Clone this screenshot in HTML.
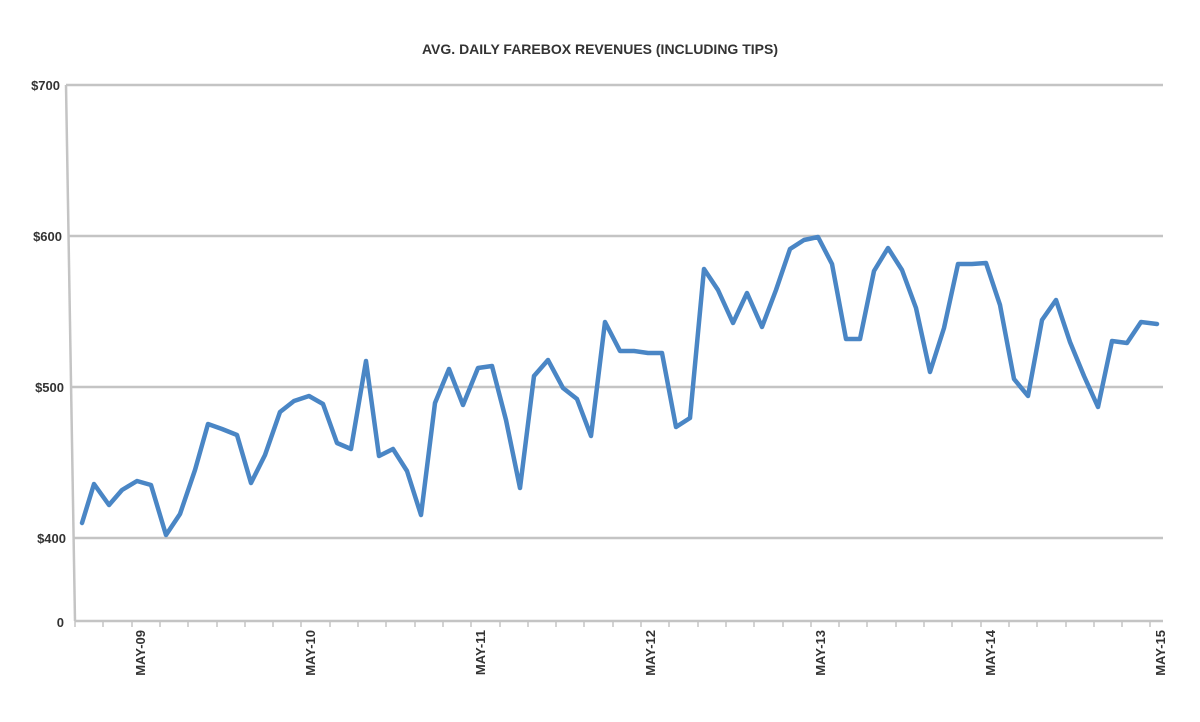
<!DOCTYPE html>
<html><head><meta charset="utf-8"><style>
html,body{margin:0;padding:0;background:#fff;}
svg{display:block;font-family:"Liberation Sans",Arial,sans-serif;}
</style></head><body>
<svg width="1200" height="722" viewBox="0 0 1200 722">
<rect width="1200" height="722" fill="#fff"/>
<text x="600" y="54" text-anchor="middle" font-size="14" font-weight="bold" fill="#333">AVG. DAILY FAREBOX REVENUES (INCLUDING TIPS)</text>
<g stroke="#c4c4c4" stroke-width="2.5">
<line x1="66" y1="85" x2="1163" y2="85"/>
<line x1="68" y1="236" x2="1163" y2="236"/>
<line x1="71" y1="387" x2="1163" y2="387"/>
<line x1="73" y1="538" x2="1163" y2="538"/>
<line x1="75" y1="621" x2="1163" y2="621"/>
<line x1="66" y1="85" x2="75" y2="621"/>
</g>
<g stroke="#c4c4c4" stroke-width="1.5">
<line x1="75" y1="621" x2="75" y2="627"/><line x1="103" y1="621" x2="103" y2="627"/><line x1="132" y1="621" x2="132" y2="627"/><line x1="160" y1="621" x2="160" y2="627"/><line x1="188" y1="621" x2="188" y2="627"/><line x1="217" y1="621" x2="217" y2="627"/><line x1="245" y1="621" x2="245" y2="627"/><line x1="273" y1="621" x2="273" y2="627"/><line x1="301" y1="621" x2="301" y2="627"/><line x1="330" y1="621" x2="330" y2="627"/><line x1="358" y1="621" x2="358" y2="627"/><line x1="386" y1="621" x2="386" y2="627"/><line x1="415" y1="621" x2="415" y2="627"/><line x1="443" y1="621" x2="443" y2="627"/><line x1="471" y1="621" x2="471" y2="627"/><line x1="500" y1="621" x2="500" y2="627"/><line x1="528" y1="621" x2="528" y2="627"/><line x1="556" y1="621" x2="556" y2="627"/><line x1="584" y1="621" x2="584" y2="627"/><line x1="613" y1="621" x2="613" y2="627"/><line x1="641" y1="621" x2="641" y2="627"/><line x1="669" y1="621" x2="669" y2="627"/><line x1="698" y1="621" x2="698" y2="627"/><line x1="726" y1="621" x2="726" y2="627"/><line x1="754" y1="621" x2="754" y2="627"/><line x1="783" y1="621" x2="783" y2="627"/><line x1="811" y1="621" x2="811" y2="627"/><line x1="839" y1="621" x2="839" y2="627"/><line x1="867" y1="621" x2="867" y2="627"/><line x1="896" y1="621" x2="896" y2="627"/><line x1="924" y1="621" x2="924" y2="627"/><line x1="952" y1="621" x2="952" y2="627"/><line x1="981" y1="621" x2="981" y2="627"/><line x1="1009" y1="621" x2="1009" y2="627"/><line x1="1037" y1="621" x2="1037" y2="627"/><line x1="1066" y1="621" x2="1066" y2="627"/><line x1="1094" y1="621" x2="1094" y2="627"/><line x1="1122" y1="621" x2="1122" y2="627"/><line x1="1150" y1="621" x2="1150" y2="627"/>
</g>
<g font-size="13" font-weight="bold" fill="#333" text-anchor="end">
<text x="60" y="90">$700</text>
<text x="62" y="241">$600</text>
<text x="64" y="392">$500</text>
<text x="66" y="543">$400</text>
<text x="64" y="627">0</text>
</g>
<g font-size="13" font-weight="bold" fill="#333" text-anchor="end">
<text transform="translate(145,630) rotate(-90)">MAY-09</text>
<text transform="translate(315,630) rotate(-90)">MAY-10</text>
<text transform="translate(485,630) rotate(-90)">MAY-11</text>
<text transform="translate(655,630) rotate(-90)">MAY-12</text>
<text transform="translate(825,630) rotate(-90)">MAY-13</text>
<text transform="translate(995,630) rotate(-90)">MAY-14</text>
<text transform="translate(1165,630) rotate(-90)">MAY-15</text>
</g>
<polyline fill="none" stroke="#4a86c5" stroke-width="4.5" stroke-linejoin="round" stroke-linecap="round"
points="82,523 94,484 109,505 122,490 137,481 151,485 166,535 180,514 195,470 208,424 222,429 237,435 251,483 265,455 280,412 294,401 309,396 323,404 337,443 351,449 366,361 379,456 393,449 407,471 421,515 435,403 449,369 463,405 478,368 492,366 506,420 520,488 534,376 548,360 563,388 577,399 591,436 605,322 620,351 634,351 648,353 662,353 676,427 690,418 704,269 718,290 733,323 747,293 762,327 776,290 790,249 804,240 818,237 832,264 846,339 860,339 874,271 888,248 902,270 916,308 930,372 944,328 958,264 972,264 986,263 1000,305 1014,379 1028,396 1042,320 1056,300 1070,342 1084,376 1098,407 1112,341 1127,343 1141,322 1157,324"/>
</svg>
</body></html>
